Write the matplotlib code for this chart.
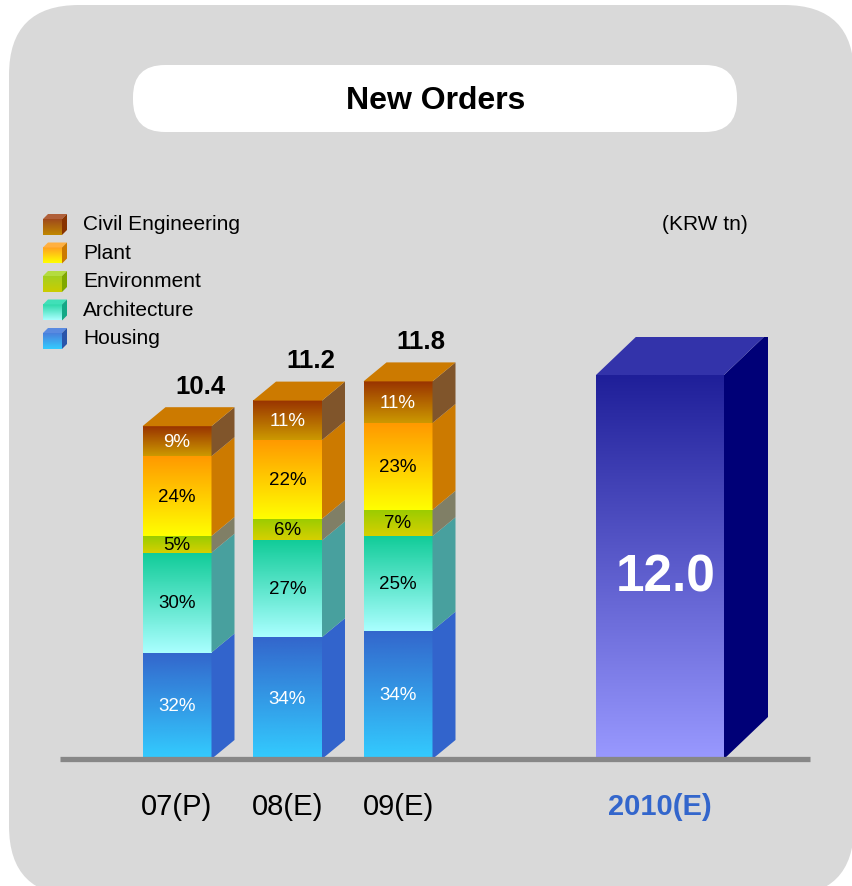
import numpy as np
import matplotlib
matplotlib.use('Agg')
import matplotlib.pyplot as plt
from matplotlib.colors import LinearSegmentedColormap
from matplotlib.patches import Polygon, FancyBboxPatch

plt.rcParams['font.family'] = ['Liberation Sans', 'DejaVu Sans']

# data
title = 'New Orders'
unit_label = '(KRW tn)'
years = ['07(P)', '08(E)', '09(E)']
totals = [10.4, 11.2, 11.8]
segment_names = ['Housing', 'Architecture', 'Environment', 'Plant', 'Civil Engineering']
housing = [32, 34, 34]
architecture = [30, 27, 25]
environment = [5, 6, 7]
plant = [24, 22, 23]
civil = [9, 11, 11]
forecast_year = '2010(E)'
forecast_total = 12.0

shares = [housing, architecture, environment, plant, civil]

# front gradient (bottom, top), side colour, label colour
seg_style = [
    ('#33ccff', '#3366cc', '#3264cc', 'white'),
    ('#aaffff', '#11cc99', '#48a09e', 'black'),
    ('#d6d000', '#99cc00', '#807f66', 'black'),
    ('#ffff00', '#ff9900', '#cc7a00', 'black'),
    ('#cc9900', '#993300', '#80552b', 'white'),
]
# legend cubes: front bottom, front top, side, top
legend_style = [
    ('#33ccff', '#4a7fdc', '#2a55aa', '#5a8ae0'),
    ('#aaffff', '#2ad8a8', '#14a886', '#40e0b8'),
    ('#cccc00', '#a4d020', '#80a800', '#b4dc40'),
    ('#ffff00', '#ff9f20', '#cc7a00', '#ffb040'),
    ('#c08800', '#a04a1c', '#883300', '#b0603a'),
]

W, H = 852, 887
fig = plt.figure(figsize=(W / 100, H / 100), dpi=100)

# background layer in pixel coordinates
bg = fig.add_axes([0, 0, 1, 1])
bg.axis('off')
bg.set_autoscale_on(False)
bg.set_xlim(0, W)
bg.set_ylim(H, 0)
bg.add_patch(FancyBboxPatch((9, 6), 845, 891, boxstyle='round,pad=0,rounding_size=70',
                            fc='#d9d9d9', ec='none', zorder=1))
bg.add_patch(FancyBboxPatch((133, 66), 604, 67, boxstyle='round,pad=0,rounding_size=32',
                            fc='white', ec='none', zorder=1))
bg.text(436, 101, title, fontsize=23, fontweight='bold', ha='center', va='center')
bg.text(705, 225, unit_label, fontsize=15, ha='center', va='center')

grad = np.linspace(0, 1, 256).reshape(-1, 1)

# legend (top row is last segment)
for i, idx in enumerate(range(len(segment_names) - 1, -1, -1)):
    yc = 224 + i * 28.5
    fb, ft, sc, tc = legend_style[idx]
    cmap = LinearSegmentedColormap.from_list('lg%d' % idx, [fb, ft])
    bg.imshow(grad, cmap=cmap, extent=[43, 62, yc + 12, yc - 4], origin='lower',
              aspect='auto', interpolation='bilinear', zorder=2)
    bg.add_patch(Polygon([(43, yc - 4), (62, yc - 4), (67, yc - 9), (48, yc - 9)],
                         fc=tc, ec='none', zorder=2))
    bg.add_patch(Polygon([(62, yc - 4), (67, yc - 9), (67, yc + 7), (62, yc + 12)],
                         fc=sc, ec='none', zorder=2))
    bg.text(83, yc + 1, segment_names[idx], fontsize=15, ha='left', va='center')

# chart layer: x in bar slots, y in KRW tn
px_x, px_y = 110.5, 32.0
base_px = 760
ax = fig.add_axes([60 / W, (H - base_px) / H, 750 / W, 13.2 * px_y / H])
ax.axis('off')
ax.set_autoscale_on(False)
ax.set_xlim(-117 / px_x, 633 / px_x)
ax.set_ylim(0, 13.2)

x_pos = [0, 1, 2]
x_fore = 483 / px_x
bw, dx, dy = 69 / px_x, 23 / px_x, 19 / px_y


def front_face(ax, x0, x1, y0, y1, c_bottom, c_top, z=2):
    cmap = LinearSegmentedColormap.from_list('g', [c_bottom, c_top])
    ax.imshow(grad, cmap=cmap, extent=[x0, x1, y0, y1], origin='lower',
              aspect='auto', interpolation='bilinear', zorder=z)


for j, xc in enumerate(x_pos):
    x0, x1 = xc - bw / 2, xc + bw / 2
    bottom = 0.0
    for k, share in enumerate(shares):
        h = totals[j] * share[j] / 100
        top = bottom + h
        cb, ct, sc, lc = seg_style[k]
        front_face(ax, x0, x1, bottom, top, cb, ct)
        ax.add_patch(Polygon([(x1, bottom), (x1 + dx, bottom + dy), (x1 + dx, top + dy), (x1, top)],
                             fc=sc, ec='none', zorder=2))
        ax.text(xc, (bottom + top) / 2, '%d%%' % share[j], fontsize=13.5, color=lc,
                ha='center', va='center', zorder=4)
        bottom = top
    ax.add_patch(Polygon([(x0, bottom), (x1, bottom), (x1 + dx, bottom + dy), (x0 + dx, bottom + dy)],
                         fc='#cc7a00', ec='none', zorder=2))
    ax.text(xc + dx, bottom + dy + 0.66, '%.1f' % totals[j], fontsize=18.5, fontweight='bold',
            ha='center', va='center')
    ax.text(xc, -1.48, years[j], fontsize=21, ha='center', va='center', clip_on=False)

# forecast bar
fw, fdx, fdy = 128 / px_x, 44 / px_x, 42 / px_y
x0, x1 = x_fore - fw / 2, x_fore + fw / 2
front_face(ax, x0, x1, 0, forecast_total, '#9999ff', '#1f1f99')
ax.add_patch(Polygon([(x1, 0), (x1 + fdx, fdy), (x1 + fdx, forecast_total + fdy), (x1, forecast_total)],
                     fc='#000077', ec='none', zorder=2))
ax.add_patch(Polygon([(x0, forecast_total), (x1, forecast_total), (x1 + fdx, forecast_total + fdy),
                      (x0 + fdx, forecast_total + fdy)], fc='#3333aa', ec='none', zorder=2))
ax.text(x_fore + 0.05, forecast_total / 2 - 0.3, '%.1f' % forecast_total, fontsize=37, fontweight='bold',
        color='white', ha='center', va='center', zorder=4)
ax.text(x_fore, -1.48, forecast_year, fontsize=21, fontweight='bold', color='#3366cc',
        ha='center', va='center', clip_on=False)

# baseline
ax.plot(ax.get_xlim(), [0, 0], color='#878787', lw=3.8, solid_capstyle='butt', zorder=5, clip_on=False)

fig.savefig('out.png', dpi=100)
